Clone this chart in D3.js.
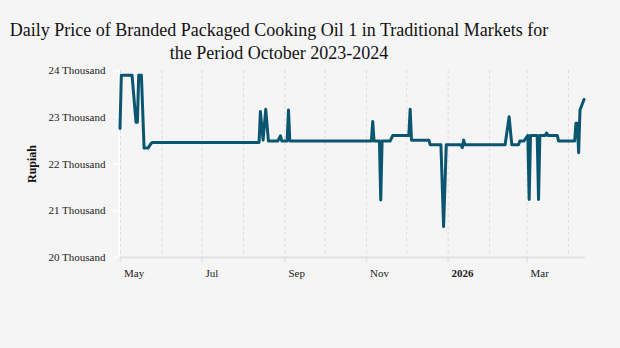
<!DOCTYPE html>
<html>
<head>
<meta charset="utf-8">
<script src="https://cdn.jsdelivr.net/npm/d3@7"></script>
<style>
  html, body { margin: 0; padding: 0; background: #f5f5f5; }
  svg { display: block; }
  text { font-family: "Liberation Serif", "Times New Roman", serif; }
</style>
</head>
<body>
<svg id="chart" width="620" height="348"></svg>
<script>
const titleLines = ["Daily Price of Branded Packaged Cooking Oil 1 in Traditional Markets for",
                    "the Period October 2023-2024"];
const yLabel = "Rupiah";

const dates = ["2025-05-01","2025-05-02","2025-05-10","2025-05-13","2025-05-14","2025-05-15","2025-05-17",
  "2025-05-19","2025-05-22","2025-05-24","2025-05-25","2025-08-13","2025-08-14","2025-08-16","2025-08-18",
  "2025-08-20","2025-08-27","2025-08-29","2025-08-30","2025-09-03","2025-09-04","2025-09-05","2025-11-05",
  "2025-11-06","2025-11-07","2025-11-11","2025-11-12","2025-11-13","2025-11-19","2025-11-21","2025-12-03",
  "2025-12-04","2025-12-05","2025-12-18","2025-12-19","2025-12-27","2025-12-29","2025-12-31","2026-01-11",
  "2026-01-12","2026-01-13","2026-01-14","2026-02-13","2026-02-16","2026-02-18","2026-02-23","2026-02-24",
  "2026-02-27","2026-03-02","2026-03-03","2026-03-04","2026-03-09","2026-03-10","2026-03-11","2026-03-15",
  "2026-03-16","2026-03-17","2026-03-24","2026-03-25","2026-04-06","2026-04-07","2026-04-08","2026-04-09",
  "2026-04-10","2026-04-13"];
const prices = [22750,23890,23890,22880,22880,23890,23890,
  22330,22330,22420,22450,22450,23110,22500,23160,
  22480,22480,22590,22480,22480,23145,22480,22480,
  22900,22480,22480,21220,22480,22480,22600,22600,
  23160,22500,22500,22400,22400,20650,22400,22400,
  22340,22500,22400,22400,23000,22400,22400,22480,
  22480,22600,21230,22600,22600,21230,22600,22600,
  22650,22600,22600,22480,22480,22860,22860,22230,
  23145,23370];

const xDomain = ["2025-05-01", "2026-04-13"];
const gridMonths = ["2025-05-01","2025-06-01","2025-07-01","2025-08-01","2025-09-01","2025-10-01",
  "2025-11-01","2025-12-01","2026-01-01","2026-02-01","2026-03-01","2026-04-01"];
const xTickDates = ["2025-05-01","2025-07-01","2025-09-01","2025-11-01","2026-01-01","2026-03-01"];
const xTickLabels = ["May","Jul","Sep","Nov","2026","Mar"];
const yTicks = [20000, 21000, 22000, 23000, 24000];
const yTickLabels = ["20 Thousand","21 Thousand","22 Thousand","23 Thousand","24 Thousand"];

const parse = d3.utcParse("%Y-%m-%d");
const data = dates.map((d, i) => ({ date: parse(d), value: prices[i] }));

const svg = d3.select("#chart");
const mLeft = 120, mRight = 584, mTop = 70, mBottom = 257;

const x = d3.scaleUtc().domain(xDomain.map(parse)).range([mLeft, mRight]);
const y = d3.scaleLinear().domain([20000, 24000]).range([mBottom, mTop]);

svg.append("rect").attr("width", 620).attr("height", 348).attr("fill", "#f5f5f5");

// title
const title = svg.append("text").attr("text-anchor", "middle").attr("font-size", 18).attr("fill", "#111");
titleLines.forEach((t, i) => {
  title.append("tspan").attr("x", 279).attr("y", 36 + i * 23).text(t);
});

// vertical grid
svg.append("g").selectAll("line").data(gridMonths.map(parse)).join("line")
  .attr("x1", d => x(d) + 0.5).attr("x2", d => x(d) + 0.5)
  .attr("y1", mTop).attr("y2", mBottom)
  .attr("stroke", "#dcdcdc").attr("stroke-width", 1).attr("stroke-dasharray", "3,3");

// x axis
const xAxis = d3.axisBottom(x)
  .tickValues(xTickDates.map(parse))
  .tickFormat((d, i) => xTickLabels[i])
  .tickSize(5).tickSizeOuter(0).tickPadding(7);
const gx = svg.append("g").attr("transform", `translate(0,${mBottom + 0.5})`).call(xAxis);
gx.select(".domain").attr("stroke", "#e2e2e2").attr("stroke-width", 2).attr("d", `M${mLeft - 2},0H${mRight + 1}`);
gx.selectAll(".tick line").attr("stroke", "#e2e2e2").attr("stroke-width", 1.5);
gx.selectAll(".tick text")
  .attr("font-family", "Liberation Serif, serif").attr("font-size", 11).attr("fill", "#222")
  .attr("text-anchor", "start").attr("dx", 3.5)
  .attr("font-weight", (d, i) => xTickLabels[i] === "2026" ? "bold" : "normal");

// y axis
const yAxis = d3.axisLeft(y).tickValues(yTicks).tickFormat((d, i) => yTickLabels[i])
  .tickSize(5).tickSizeOuter(0).tickPadding(8);
const gy = svg.append("g").attr("transform", `translate(${mLeft - 1.5},0)`).call(yAxis);
gy.select(".domain").attr("stroke", "#ffffff").attr("stroke-width", 1.5);
gy.selectAll(".tick line").attr("stroke", "#ffffff").attr("stroke-width", 1.5);
gy.selectAll(".tick text")
  .attr("font-family", "Liberation Serif, serif").attr("font-size", 11).attr("fill", "#222");

// y label
svg.append("text").attr("transform", `translate(36,164) rotate(-90)`)
  .attr("text-anchor", "middle").attr("font-size", 12).attr("font-weight", "bold").attr("fill", "#111")
  .text(yLabel);

// line
const line = d3.line().x(d => x(d.date)).y(d => y(d.value));
svg.append("path").datum(data).attr("d", line)
  .attr("fill", "none").attr("stroke", "#0a5670").attr("stroke-width", 3)
  .attr("stroke-linejoin", "round").attr("stroke-linecap", "round");
</script>
</body>
</html>
